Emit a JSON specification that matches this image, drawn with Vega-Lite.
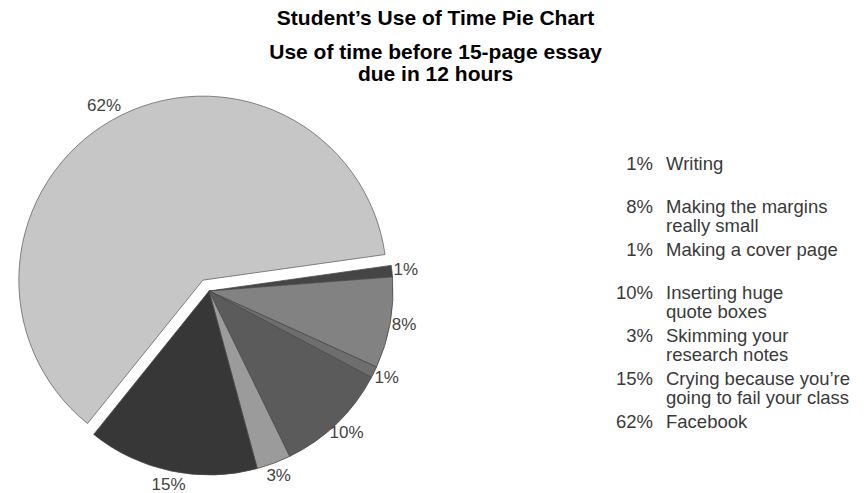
{
  "$schema": "https://vega.github.io/schema/vega-lite/v6.json",
  "padding": {"left": 9, "top": 8, "right": 0, "bottom": 0},
  "background": "white",
  "title": {
    "text": "Student’s Use of Time Pie Chart",
    "subtitle": ["Use of time before 15-page essay", "due in 12 hours"],
    "anchor": "middle",
    "dx": 6,
    "font": "Liberation Sans",
    "fontSize": 21,
    "fontWeight": "bold",
    "color": "#000000",
    "subtitleFont": "Liberation Sans",
    "subtitleFontSize": 21,
    "subtitleFontWeight": "bold",
    "subtitleColor": "#000000",
    "subtitleLineHeight": 22,
    "subtitlePadding": 13,
    "offset": 6
  },
  "datasets": {
    "slices": [
      {"activity": "Writing", "share": 0.01, "rank": 1},
      {"activity": "Making the margins\nreally small", "share": 0.08, "rank": 2},
      {"activity": "Making a cover page", "share": 0.01, "rank": 3},
      {"activity": "Inserting huge\nquote boxes", "share": 0.10, "rank": 4},
      {"activity": "Skimming your\n\u00a0research notes", "share": 0.03, "rank": 5},
      {"activity": "Crying because you’re\n\u00a0going to fail your class", "share": 0.15, "rank": 6},
      {"activity": "Facebook", "share": 0.62, "rank": 7}
    ]
  },
  "data": {"name": "slices"},
  "spacing": 196,
  "hconcat": [
    {
      "width": 400,
      "height": 400,
      "encoding": {
        "theta": {"field": "share", "type": "quantitative", "stack": true, "scale": {"range": [1.43117, 7.71436]}},
        "order": {"field": "rank", "type": "quantitative"},
        "color": {
          "field": "activity",
          "type": "nominal",
          "legend": null,
          "scale": {
            "domain": ["Writing", "Making the margins\nreally small", "Making a cover page", "Inserting huge\nquote boxes", "Skimming your\n\u00a0research notes", "Crying because you’re\n\u00a0going to fail your class", "Facebook"],
            "range": ["#454545", "#828282", "#6e6e6e", "#5b5b5b", "#9b9b9b", "#373737", "#c6c6c6"]
          }
        }
      },
      "layer": [
        {
          "mark": {"type": "arc", "outerRadius": 184, "stroke": "#4a4a4a", "strokeWidth": 0.8},
          "encoding": {"opacity": {"condition": {"test": "datum.activity === 'Facebook'", "value": 0}, "value": 1}}
        },
        {
          "mark": {"type": "arc", "outerRadius": 184, "stroke": "#666666", "strokeWidth": 0.8, "xOffset": -6.17, "yOffset": -10.87},
          "encoding": {"opacity": {"condition": {"test": "datum.activity === 'Facebook'", "value": 1}, "value": 0}}
        },
        {
          "mark": {"type": "text", "radius": 198, "font": "Liberation Sans", "fontSize": 17, "align": "center", "baseline": "middle"},
          "encoding": {
            "text": {"field": "share", "type": "quantitative", "format": ".0%"},
            "color": {"value": "#444444"},
            "detail": {"field": "activity"},
            "opacity": {"condition": {"test": "datum.activity === 'Facebook'", "value": 0}, "value": 1}
          }
        },
        {
          "mark": {"type": "text", "radius": 200, "font": "Liberation Sans", "fontSize": 17, "align": "center", "baseline": "middle", "xOffset": -6.17, "yOffset": -10.87},
          "encoding": {
            "text": {"field": "share", "type": "quantitative", "format": ".0%"},
            "color": {"value": "#444444"},
            "detail": {"field": "activity"},
            "opacity": {"condition": {"test": "datum.activity === 'Facebook'", "value": 1}, "value": 0}
          }
        }
      ]
    },
    {
      "width": 13,
      "height": 344,
      "encoding": {
        "y": {
          "field": "activity",
          "type": "ordinal",
          "axis": null,
          "scale": {
            "domain": ["Writing", "Making the margins\nreally small", "Making a cover page", "Inserting huge\nquote boxes", "Skimming your\n\u00a0research notes", "Crying because you’re\n\u00a0going to fail your class", "Facebook"],
            "padding": 1
          }
        }
      },
      "layer": [
        {
          "mark": {"type": "text", "align": "left", "dx": 6.5, "dy": 30, "baseline": "middle", "lineBreak": "\n", "font": "Liberation Sans", "fontSize": 18.5, "lineHeight": 19, "fill": "#3a3a3a"},
          "encoding": {"text": {"field": "activity", "type": "nominal"}}
        },
        {
          "mark": {"type": "text", "align": "right", "dx": -6.5, "dy": 30, "baseline": "middle", "font": "Liberation Sans", "fontSize": 18.5, "fill": "#3a3a3a"},
          "encoding": {"text": {"field": "share", "type": "quantitative", "format": ".0%"}}
        }
      ]
    }
  ],
  "config": {"view": {"stroke": null}}
}
